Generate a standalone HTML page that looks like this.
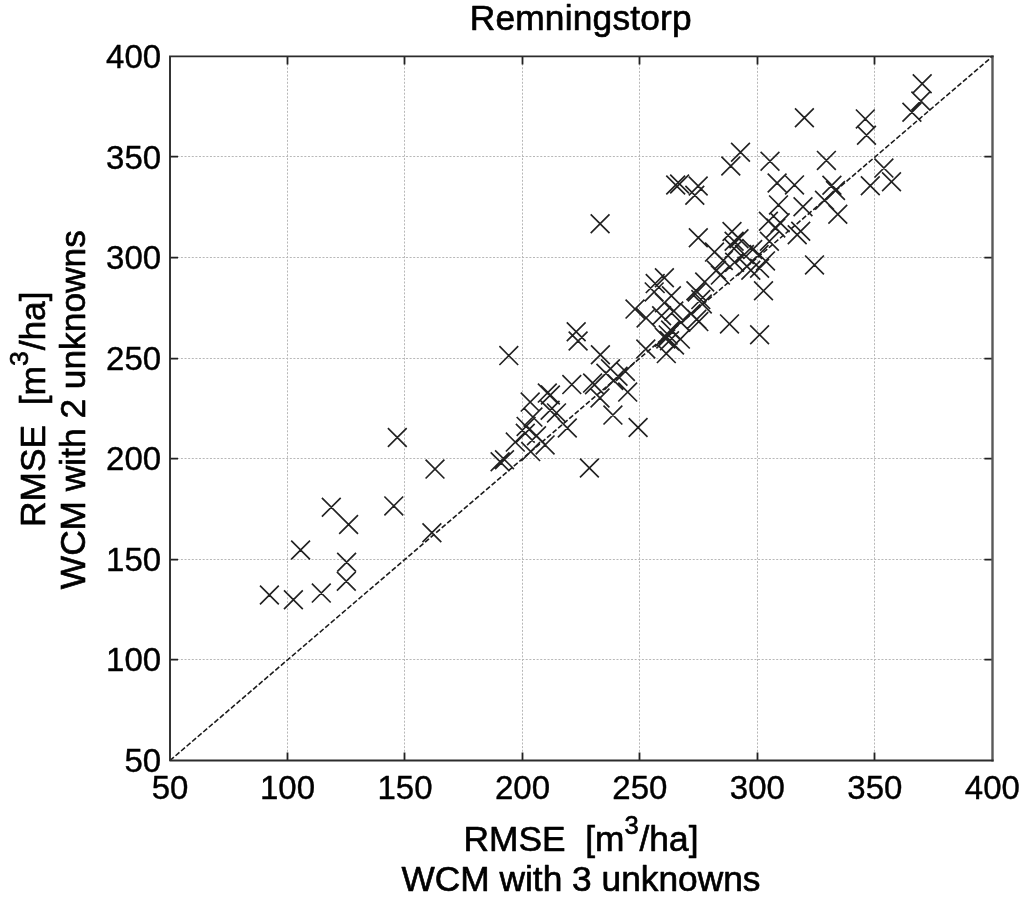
<!DOCTYPE html>
<html><head><meta charset="utf-8"><title>Remningstorp</title>
<style>html,body{margin:0;padding:0;background:#fff}svg{display:block;filter:grayscale(1)}text{font-family:"Liberation Sans",Arial,Helvetica,sans-serif;fill:#000;stroke:#000;stroke-width:0.65px;stroke-linejoin:round}.t{stroke-width:.4px}</style></head>
<body>
<svg width="1024" height="898" viewBox="0 0 1024 898">
<rect width="1024" height="898" fill="#fff"/>
<path d="M287.5 56.4V760.5M170.0 659.5H992.4M404.5 56.4V760.5M170.0 559.5H992.4M522.5 56.4V760.5M170.0 458.5H992.4M639.5 56.4V760.5M170.0 358.5H992.4M757.5 56.4V760.5M170.0 257.5H992.4M874.5 56.4V760.5M170.0 156.5H992.4" stroke="#b8b8b8" stroke-width="1" stroke-dasharray="2 1.63" fill="none"/>
<path d="M287.5 760.5v-8M287.5 56.4v8M170.0 659.7h8M992.4 659.7h-8M404.5 760.5v-8M404.5 56.4v8M170.0 559.7h8M992.4 559.7h-8M522.5 760.5v-8M522.5 56.4v8M170.0 458.7h8M992.4 458.7h-8M639.5 760.5v-8M639.5 56.4v8M170.0 358.7h8M992.4 358.7h-8M757.5 760.5v-8M757.5 56.4v8M170.0 257.7h8M992.4 257.7h-8M874.5 760.5v-8M874.5 56.4v8M170.0 156.7h8M992.4 156.7h-8" stroke="#222" stroke-width="1.8" fill="none"/>
<path d="M170.0 760.5L992.4 56.4" stroke="#1c1c1c" stroke-width="1.6" stroke-dasharray="5.1 2.2" fill="none"/>
<path d="M291.2 540.6L310.0 559.4M291.2 559.4L310.0 540.6M337.2 552.8L356.0 571.6M337.2 571.6L356.0 552.8M336.9 571.8L355.7 590.6M336.9 590.6L355.7 571.8M311.9 583.7L330.7 602.5M311.9 602.5L330.7 583.7M260.0 585.6L278.8 604.4M260.0 604.4L278.8 585.6M284.0 590.3L302.8 609.1M284.0 609.1L302.8 590.3M387.9 428.1L406.7 446.9M387.9 446.9L406.7 428.1M425.6 459.7L444.4 478.5M425.6 478.5L444.4 459.7M321.9 497.8L340.7 516.6M321.9 516.6L340.7 497.8M384.4 496.5L403.2 515.3M384.4 515.3L403.2 496.5M339.2 515.1L358.0 533.9M339.2 533.9L358.0 515.1M422.5 523.4L441.3 542.2M422.5 542.2L441.3 523.4M520.8 392.7L539.6 411.5M520.8 411.5L539.6 392.7M537.9 383.7L556.7 402.5M537.9 402.5L556.7 383.7M541.0 385.6L559.8 404.4M541.0 404.4L559.8 385.6M523.5 407.7L542.3 426.5M523.5 426.5L542.3 407.7M515.9 423.8L534.7 442.6M515.9 442.6L534.7 423.8M505.9 432.7L524.7 451.5M505.9 451.5L524.7 432.7M557.9 418.6L576.7 437.4M557.9 437.4L576.7 418.6M521.3 442.2L540.1 461.0M521.3 461.0L540.1 442.2M527.1 426.4L545.9 445.2M527.1 445.2L545.9 426.4M535.7 435.5L554.5 454.3M535.7 454.3L554.5 435.5M540.7 400.9L559.5 419.7M540.7 419.7L559.5 400.9M547.1 403.5L565.9 422.3M547.1 422.3L565.9 403.5M516.7 417.0L535.5 435.8M516.7 435.8L535.5 417.0M490.7 452.3L509.5 471.1M490.7 471.1L509.5 452.3M495.1 450.3L513.9 469.1M495.1 469.1L513.9 450.3M499.4 346.2L518.2 365.0M499.4 365.0L518.2 346.2M566.8 322.3L585.6 341.1M566.8 341.1L585.6 322.3M568.7 331.6L587.5 350.4M568.7 350.4L587.5 331.6M591.0 345.3L609.8 364.1M591.0 364.1L609.8 345.3M625.6 299.7L644.4 318.5M625.6 318.5L644.4 299.7M636.7 308.5L655.5 327.3M636.7 327.3L655.5 308.5M636.4 339.6L655.2 358.4M636.4 358.4L655.2 339.6M562.4 375.2L581.2 394.0M562.4 394.0L581.2 375.2M618.3 382.7L637.1 401.5M618.3 401.5L637.1 382.7M603.5 405.7L622.3 424.5M603.5 424.5L622.3 405.7M590.6 388.6L609.4 407.4M590.6 407.4L609.4 388.6M616.0 362.0L634.8 380.8M616.0 380.8L634.8 362.0M601.1 359.3L619.9 378.1M601.1 378.1L619.9 359.3M596.5 363.9L615.3 382.7M596.5 382.7L615.3 363.9M604.3 371.0L623.1 389.8M604.3 389.8L623.1 371.0M585.1 375.3L603.9 394.1M585.1 394.1L603.9 375.3M583.2 373.7L602.0 392.5M583.2 392.5L602.0 373.7M608.6 366.9L627.4 385.7M608.6 385.7L627.4 366.9M628.7 418.1L647.5 436.9M628.7 436.9L647.5 418.1M580.0 458.6L598.8 477.4M580.0 477.4L598.8 458.6M644.8 282.5L663.6 301.3M644.8 301.3L663.6 282.5M662.0 286.4L680.8 305.2M662.0 305.2L680.8 286.4M655.0 293.4L673.8 312.2M655.0 312.2L673.8 293.4M652.2 306.3L671.0 325.1M652.2 325.1L671.0 306.3M664.4 301.6L683.2 320.4M664.4 320.4L683.2 301.6M671.4 312.9L690.2 331.7M671.4 331.7L690.2 312.9M681.5 304.3L700.3 323.1M681.5 323.1L700.3 304.3M687.4 309.8L706.2 328.6M687.4 328.6L706.2 309.8M689.4 312.2L708.2 331.0M689.4 331.0L708.2 312.2M692.9 294.6L711.7 313.4M692.9 313.4L711.7 294.6M687.8 282.5L706.6 301.3M687.8 301.3L706.6 282.5M656.9 344.2L675.7 363.0M656.9 363.0L675.7 344.2M671.0 329.7L689.8 348.5M671.0 348.5L689.8 329.7M661.2 320.7L680.0 339.5M661.2 339.5L680.0 320.7M655.0 327.8L673.8 346.6M655.0 346.6L673.8 327.8M656.4 329.5L675.2 348.3M656.4 348.3L675.2 329.5M658.8 325.5L677.6 344.3M658.8 344.3L677.6 325.5M665.1 335.6L683.9 354.4M665.1 354.4L683.9 335.6M660.1 331.4L678.9 350.2M660.1 350.2L678.9 331.4M688.9 228.3L707.7 247.1M688.9 247.1L707.7 228.3M722.6 222.1L741.4 240.9M722.6 240.9L741.4 222.1M754.1 281.4L772.9 300.2M754.1 300.2L772.9 281.4M760.0 231.9L778.8 250.7M760.0 250.7L778.8 231.9M759.0 211.8L777.8 230.6M759.0 230.6L777.8 211.8M766.4 218.6L785.2 237.4M766.4 237.4L785.2 218.6M770.8 213.3L789.6 232.1M770.8 232.1L789.6 213.3M756.1 251.5L774.9 270.3M756.1 270.3L774.9 251.5M749.7 245.1L768.5 263.9M749.7 263.9L768.5 245.1M750.2 258.8L769.0 277.6M750.2 277.6L769.0 258.8M741.4 260.8L760.2 279.6M741.4 279.6L760.2 260.8M735.0 245.1L753.8 263.9M735.0 263.9L753.8 245.1M724.7 231.9L743.5 250.7M724.7 250.7L743.5 231.9M724.7 239.2L743.5 258.0M724.7 258.0L743.5 239.2M725.2 252.9L744.0 271.7M725.2 271.7L744.0 252.9M705.1 242.7L723.9 261.5M705.1 261.5L723.9 242.7M713.9 251.0L732.7 269.8M713.9 269.8L732.7 251.0M707.1 260.8L725.9 279.6M707.1 279.6L725.9 260.8M711.0 265.7L729.8 284.5M711.0 284.5L729.8 265.7M695.3 272.6L714.1 291.4M695.3 291.4L714.1 272.6M686.5 281.4L705.3 300.2M686.5 300.2L705.3 281.4M691.4 290.2L710.2 309.0M691.4 309.0L710.2 290.2M737.5 256.9L756.3 275.7M737.5 275.7L756.3 256.9M743.3 240.2L762.1 259.0M743.3 259.0L762.1 240.2M729.6 229.4L748.4 248.2M729.6 248.2L748.4 229.4M857.1 125.9L875.9 144.7M857.1 144.7L875.9 125.9M817.0 151.0L835.8 169.8M817.0 169.8L835.8 151.0M760.6 151.8L779.4 170.6M760.6 170.6L779.4 151.8M767.7 173.6L786.5 192.4M767.7 192.4L786.5 173.6M785.1 175.5L803.9 194.3M785.1 194.3L803.9 175.5M822.5 175.8L841.3 194.6M822.5 194.6L841.3 175.8M826.1 181.1L844.9 199.9M826.1 199.9L844.9 181.1M815.1 190.8L833.9 209.6M815.1 209.6L833.9 190.8M860.9 176.4L879.7 195.2M860.9 195.2L879.7 176.4M874.5 158.7L893.3 177.5M874.5 177.5L893.3 158.7M882.1 172.4L900.9 191.2M882.1 191.2L900.9 172.4M795.0 108.4L813.8 127.2M795.0 127.2L813.8 108.4M828.4 204.9L847.2 223.7M828.4 223.7L847.2 204.9M793.6 197.4L812.4 216.2M793.6 216.2L812.4 197.4M769.1 195.5L787.9 214.3M769.1 214.3L787.9 195.5M805.1 255.5L823.9 274.3M805.1 274.3L823.9 255.5M787.8 225.4L806.6 244.2M787.8 244.2L806.6 225.4M791.3 221.8L810.1 240.6M791.3 240.6L810.1 221.8M912.8 74.3L931.6 93.1M912.8 93.1L931.6 74.3M911.4 91.6L930.2 110.4M911.4 110.4L930.2 91.6M902.5 102.8L921.3 121.6M902.5 121.6L921.3 102.8M855.9 109.5L874.7 128.3M855.9 128.3L874.7 109.5M590.7 214.3L609.5 233.1M590.7 233.1L609.5 214.3M731.1 142.8L749.9 161.6M731.1 161.6L749.9 142.8M721.4 156.6L740.2 175.4M721.4 175.4L740.2 156.6M666.3 175.6L685.1 194.4M666.3 194.4L685.1 175.6M670.2 174.6L689.0 193.4M670.2 193.4L689.0 174.6M688.8 176.6L707.6 195.4M688.8 195.4L707.6 176.6M685.4 185.9L704.2 204.7M685.4 204.7L704.2 185.9M645.8 274.2L664.6 293.0M645.8 293.0L664.6 274.2M655.0 268.4L673.8 287.2M655.0 287.2L673.8 268.4M720.1 314.5L738.9 333.3M720.1 333.3L738.9 314.5M750.2 325.3L769.0 344.1M750.2 344.1L769.0 325.3" stroke="#222" stroke-width="1.65" fill="none" stroke-linecap="butt"/>
<path d="M992.5 55.5V761.4" stroke="#595959" stroke-width="2.4" fill="none"/>
<path d="M170.0 55.5V760.5H993.6M169.1 56.4H993.6" stroke="#2c2c2c" stroke-width="1.9" stroke-linejoin="round" fill="none"/>
<text x="170.0" y="799.1" class="t" font-size="33" text-anchor="middle">50</text>
<text x="287.5" y="799.1" class="t" font-size="33" text-anchor="middle">100</text>
<text x="405.0" y="799.1" class="t" font-size="33" text-anchor="middle">150</text>
<text x="522.5" y="799.1" class="t" font-size="33" text-anchor="middle">200</text>
<text x="639.9" y="799.1" class="t" font-size="33" text-anchor="middle">250</text>
<text x="757.4" y="799.1" class="t" font-size="33" text-anchor="middle">300</text>
<text x="874.9" y="799.1" class="t" font-size="33" text-anchor="middle">350</text>
<text x="992.4" y="799.1" class="t" font-size="33" text-anchor="middle">400</text>
<text x="161.1" y="772.0" class="t" font-size="33" text-anchor="end">50</text>
<text x="161.1" y="671.4" class="t" font-size="33" text-anchor="end">100</text>
<text x="161.1" y="570.8" class="t" font-size="33" text-anchor="end">150</text>
<text x="161.1" y="470.2" class="t" font-size="33" text-anchor="end">200</text>
<text x="161.1" y="369.7" class="t" font-size="33" text-anchor="end">250</text>
<text x="161.1" y="269.1" class="t" font-size="33" text-anchor="end">300</text>
<text x="161.1" y="168.5" class="t" font-size="33" text-anchor="end">350</text>
<text x="161.1" y="67.9" class="t" font-size="33" text-anchor="end">400</text>
<text x="580.8" y="30.2" font-size="35.3" letter-spacing="0.2" text-anchor="middle">Remningstorp</text>
<text x="581" y="851.3" font-size="35.3" text-anchor="middle" xml:space="preserve" style="white-space:pre">RMSE  [m<tspan dy="-17" font-size="25.5">3</tspan><tspan dy="17" dx="1">/ha]</tspan></text>
<text x="581" y="890.5" font-size="35.3" text-anchor="middle">WCM with 3 unknowns</text>
<text transform="translate(45.4,409.2) rotate(-90)" font-size="35.3" text-anchor="middle" xml:space="preserve" style="white-space:pre">RMSE  [m<tspan dy="-17.5" font-size="26.5">3</tspan><tspan dy="17.5" dx="1">/ha]</tspan></text>
<text transform="translate(84.9,409.7) rotate(-90)" font-size="35.3" text-anchor="middle">WCM with 2 unknowns</text>
</svg>
</body></html>
